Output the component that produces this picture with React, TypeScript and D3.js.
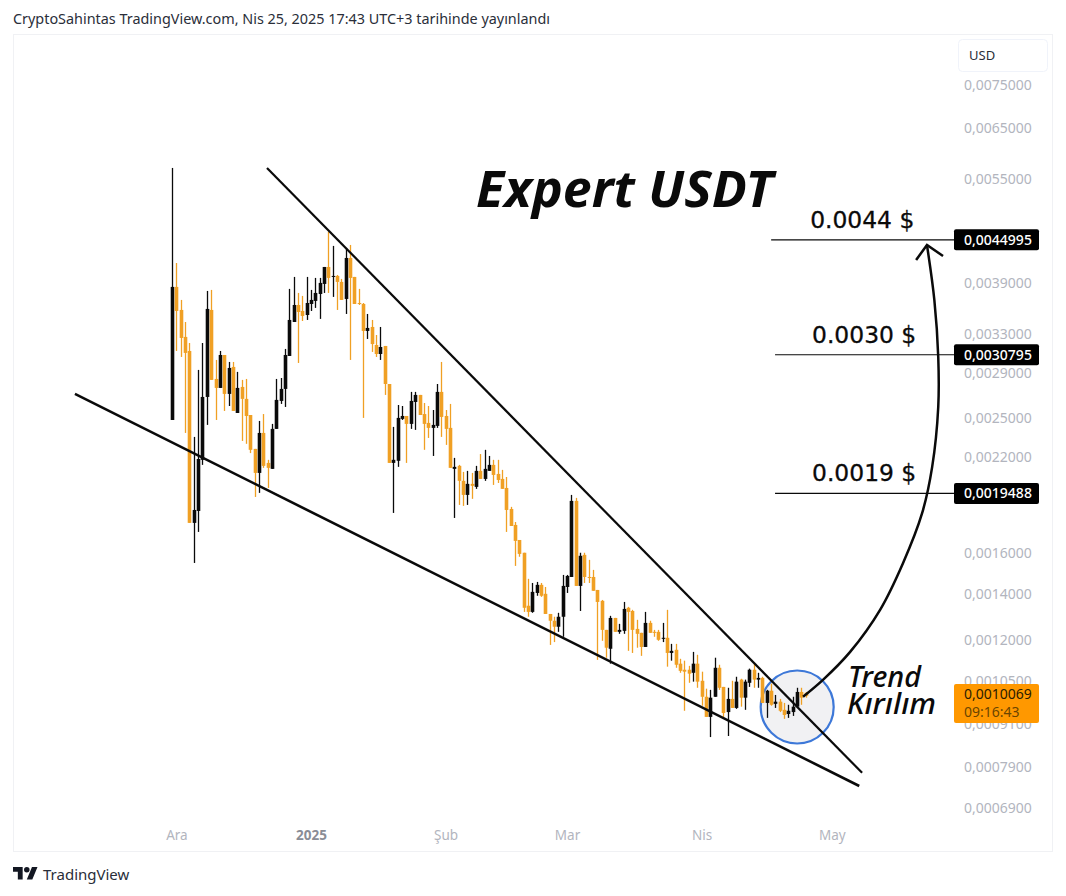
import React from "react";
import * as d3 from "d3";

const WIDTH = 1066;
const HEIGHT = 896;
const PRICE_UNIT = 1e-6;
const FIRST_DAY = new Date(Date.UTC(2024, 10, 30));

const opens = [2483,3852,3570,3266,3118,1768,1839,2177,2679,3570,2843,2760,3077,2706,2958,2541,2769,2662,2524,2257,2085,2379,2155,2113,2411,2644,2751,3067,3431,3629,3558,3511,3641,3678,3763,3890,4114,3981,3994,3916,3702,4238,3981,3653,3641,3331,3375,3180,3087,3170,2796,2155,2170,2492,2516,2451,2635,2697,2532,2459,2419,2435,2724,2516,2419,2113,2134,2031,1939,2011,1991,2099,2044,2099,2141,2078,2044,1984,1851,1756,1671,1602,1345,1318,1403,1441,1399,1309,1280,1255,1297,1431,1479,1901,1436,1591,1479,1479,1417,1367,1242,1167,1292,1234,1238,1336,1322,1246,1230,1174,1271,1234,1234,1206,1210,1151,1163,1111,1089,1089,1078,1111,1050,996,932,996,1096,1029,947,989,960,1054,993,1043,1089,1054,1060,976,1016,973,980,954,941,947,964,1012,1009];
const highs = [5704,4168,3690,3431,3201,2348,2929,3201,3801,3814,3027,3118,3077,3007,3007,2910,2834,2843,2524,2257,2475,2532,2177,2451,2843,2852,3139,3827,3981,3776,3739,3981,3814,3968,3968,4114,4618,4410,4007,3955,4381,4424,3981,3827,3653,3523,3454,3287,3375,3170,2796,2427,2609,2600,2516,2724,2724,2697,2626,2600,2566,2796,3007,2566,2618,2191,2141,2092,2099,2085,2134,2219,2250,2205,2177,2177,2106,2057,1864,1773,1671,1602,1470,1450,1455,1450,1431,1309,1297,1314,1489,1489,1939,1920,1602,1602,1565,1514,1417,1371,1242,1301,1292,1267,1362,1340,1327,1284,1230,1318,1280,1242,1242,1271,1327,1186,1186,1129,1122,1103,1155,1144,1082,1023,1019,1133,1107,1029,1026,1050,1064,1057,1054,1093,1114,1078,1064,1019,1040,1002,989,976,970,996,1026,1026,1012];
const lows = [2483,3118,3057,2379,1768,1549,1716,2141,2443,2834,2483,2760,2558,2600,2558,2541,2317,2295,2226,1926,1952,2120,1984,2113,2411,2618,2592,3067,3431,2997,3442,3454,3558,3594,3466,3776,3776,3727,3570,3690,3523,3027,3641,3629,2500,3244,3108,3057,3027,2697,2155,1827,2127,2483,2155,2411,2403,2524,2250,2340,2205,2419,2348,2287,2120,1797,1876,1870,1876,1914,1978,2044,2031,2099,2004,2017,1978,1716,1750,1534,1581,1318,1297,1314,1390,1385,1309,1182,1193,1234,1214,1403,1479,1436,1322,1450,1450,1413,1125,1198,1133,1111,1234,1226,1226,1159,1151,1171,1140,1174,1230,1214,1198,1193,1100,1122,1096,1078,951,1043,1047,1026,967,932,872,996,1019,929,875,960,957,964,954,1029,1026,1026,976,929,967,960,947,926,929,935,964,970,993];
const closes = [3852,3558,3255,3098,1768,1845,2183,2679,3582,2834,2760,3077,2706,2948,2558,2760,2662,2516,2250,2085,2379,2134,2120,2411,2653,2751,3077,3454,3629,3546,3500,3653,3690,3776,3903,4114,3968,3994,3916,3690,4238,3968,3641,3641,3331,3364,3190,3087,3159,2796,2155,2177,2500,2516,2451,2644,2697,2524,2451,2419,2443,2724,2508,2411,2120,2127,2031,1939,2011,1998,2099,2044,2113,2141,2071,2037,1978,1845,1750,1666,1596,1336,1318,1408,1441,1390,1309,1280,1255,1297,1436,1484,1901,1436,1586,1479,1474,1413,1362,1242,1171,1292,1234,1242,1331,1318,1242,1226,1174,1271,1230,1230,1202,1210,1151,1159,1107,1085,1082,1075,1111,1047,996,932,993,1096,1026,944,989,960,1047,993,1047,1089,1054,1060,976,1016,970,980,951,938,951,964,1012,993,999];

const yTickValues = [0.0075,0.0065,0.0055,0.0039,0.0033,0.0029,0.0025,0.0022,0.0016,0.0014,0.0012,0.00105,0.00091,0.00079,0.00069];
const monthTicks = [
  { date: new Date(Date.UTC(2024, 11, 1)), label: "Ara", strong: false },
  { date: new Date(Date.UTC(2025, 0, 1)), label: "2025", strong: true },
  { date: new Date(Date.UTC(2025, 1, 1)), label: "Şub", strong: false },
  { date: new Date(Date.UTC(2025, 2, 1)), label: "Mar", strong: false },
  { date: new Date(Date.UTC(2025, 3, 1)), label: "Nis", strong: false },
  { date: new Date(Date.UTC(2025, 4, 1)), label: "May", strong: false },
];

const targetLevels = [
  { price: 0.0044995, label: "0,0044995", note: "0.0044 $", from: 137.9, noteShift: 39 },
  { price: 0.0030795, label: "0,0030795", note: "0.0030 $", from: 138.8, noteShift: 37 },
  { price: 0.0019488, label: "0,0019488", note: "0.0019 $", from: 138.8, noteShift: 37 },
];
// trend lines as [day index, price]
const upperTrend: [number, number][] = [[21.75, 0.005704], [158.85, 0.000775]];
const lowerTrend: [number, number][] = [[-22.5, 0.002706], [158.2, 0.000742]];
// target arrow as [day index, price]
const arrowPath: [number, number][] = [
  [145.25, 0.000996], [149.9, 0.001054], [156.1, 0.001155], [163, 0.001327], [168.3, 0.001549],
  [172.7, 0.001827], [175, 0.002127], [176.4, 0.002592], [176.4, 0.003057], [175.5, 0.00369], [173.8, 0.004424],
];
const arrowHead: [number, number][] = [[171.3, 0.00421], [173.8, 0.004424], [177.5, 0.004266]];
const breakCircle = { day: 143.9, price: 0.000963 };

const LAST_PRICE_LABEL = "0,0010069";
const COUNTDOWN_LABEL = "09:16:43";
const TITLE = "CryptoSahintas TradingView.com, Nis 25, 2025 17:43 UTC+3 tarihinde yayınlandı";

const BLACK = "#0a0a0a";
const ORANGE = "#f0a024";
const GREY = "#b2b5be";
const UI_FONT = "'Noto Sans', sans-serif";
const HAND_FONT = "'DejaVu Sans', sans-serif";

const dayOf = (i: number) => new Date(FIRST_DAY.getTime() + i * 86400000);

export default function App() {
  const x = d3.scaleUtc().domain([FIRST_DAY, dayOf(146)]).range([172.6, 806.3]);
  const y = d3.scaleLog().domain([0.0075, 0.00069]).range([85, 808]);
  const px = (i: number) => x(dayOf(i));
  const line = d3.line<[number, number]>().x((d) => px(d[0])).y((d) => y(d[1]));
  const curve = d3.line<[number, number]>().x((d) => px(d[0])).y((d) => y(d[1])).curve(d3.curveCatmullRom.alpha(0.5));
  const fmt = (v: number) => v.toFixed(7).replace(".", ",");
  const cx = px(breakCircle.day);
  const cy = y(breakCircle.price);

  return (
    <svg width={WIDTH} height={HEIGHT} style={{ position: "absolute", left: 0, top: 0, background: "#fff" }}>
      <text x={13} y={24} fontFamily={UI_FONT} fontSize={14.3} fill="#2a2e39" textLength={537} lengthAdjust="spacingAndGlyphs">{TITLE}</text>
      <rect x={13.5} y={34.5} width={1039} height={817} fill="#fff" stroke="#f0f1f4" strokeWidth={1} />

      <circle cx={cx} cy={cy} r={36.5} fill="#f1f1f3" stroke="#3d78d8" strokeWidth={2.2} />

      {yTickValues.map((t) => (
        <text key={t} x={964} y={y(t)} dy="0.36em" fontFamily={UI_FONT} fontSize={14} fill={GREY}>{fmt(t)}</text>
      ))}
      {monthTicks.map((t) => (
        <text key={t.label} x={x(t.date)} y={835} dy="0.36em" textAnchor="middle" fontFamily={UI_FONT}
          fontSize={13.5} fontWeight={t.strong ? 700 : 400} fill={t.strong ? "#8a8d96" : GREY}>{t.label}</text>
      ))}

      <g>
        {opens.map((o, i) => {
          const c = closes[i];
          const up = c >= o;
          const color = up ? BLACK : ORANGE;
          const top = y(Math.max(o, c) * PRICE_UNIT);
          const bot = y(Math.min(o, c) * PRICE_UNIT);
          const xc = Math.floor(px(i)) + 0.5;
          return (
            <g key={i}>
              <line x1={xc} x2={xc} y1={y(highs[i] * PRICE_UNIT)} y2={y(lows[i] * PRICE_UNIT)} stroke={color} strokeWidth={1.3} />
              <rect x={xc - 1.8} y={top} width={3.6} height={Math.max(bot - top, 1)} fill={color} />
            </g>
          );
        })}
      </g>

      <path d={line(upperTrend)!} fill="none" stroke={BLACK} strokeWidth={2.2} />
      <path d={line(lowerTrend)!} fill="none" stroke={BLACK} strokeWidth={2.6} />
      <path d={curve(arrowPath)!} fill="none" stroke={BLACK} strokeWidth={2.5} />
      <path d={line(arrowHead)!} fill="none" stroke={BLACK} strokeWidth={2.5} />

      {targetLevels.map((l) => (
        <g key={l.label}>
          <line x1={px(l.from)} x2={954} y1={y(l.price)} y2={y(l.price)} stroke={BLACK} strokeWidth={1.2} />
          <text x={px(l.from) + l.noteShift} y={y(l.price) - 12} fontFamily={HAND_FONT} fontSize={23.4} fill={BLACK}
            stroke={BLACK} strokeWidth={0.3}>{l.note}</text>
          <rect x={954} y={y(l.price) - 10.5} width={85} height={21} rx={2} fill="#000" />
          <text x={964} y={y(l.price)} dy="0.36em" fontFamily={UI_FONT} fontSize={14} fontWeight={500} fill="#fff">{l.label}</text>
        </g>
      ))}

      <text x={476} y={207} fontFamily={UI_FONT} fontSize={50} fontWeight={700} fontStyle="italic" fill={BLACK}
        textLength={297} lengthAdjust="spacingAndGlyphs">Expert USDT</text>
      <text x={848} y={687} fontFamily={UI_FONT} fontSize={28} fontWeight={500} fontStyle="italic" fill={BLACK}
        textLength={73} lengthAdjust="spacingAndGlyphs">Trend</text>
      <text x={847} y={714} fontFamily={UI_FONT} fontSize={28} fontWeight={500} fontStyle="italic" fill={BLACK}
        textLength={89} lengthAdjust="spacingAndGlyphs">Kırılım</text>

      <rect x={954} y={684} width={85} height={39} rx={2} fill="#ff9800" />
      <text x={964} y={694} dy="0.36em" fontFamily={UI_FONT} fontSize={14} fill="#2a1c00">{LAST_PRICE_LABEL}</text>
      <text x={964} y={712} dy="0.36em" fontFamily={UI_FONT} fontSize={14} fill="#6b4500">{COUNTDOWN_LABEL}</text>

      <rect x={958.5} y={39.5} width={89} height={32} rx={4} fill="#fff" stroke="#f0f3fa" />
      <text x={969} y={55} dy="0.36em" fontFamily={UI_FONT} fontSize={13} fill="#2a2e39">USD</text>

      <g transform="translate(13,864.2) scale(0.69)" fill="#131722">
        <path d="M14 22H7V11H0V4h14v18zM28 22h-8l7.5-18h8L28 22z" />
        <circle cx={20} cy={8} r={4} />
      </g>
      <text x={43} y={875} dy="0.36em" fontFamily={UI_FONT} fontSize={15} fill="#2a2e39">TradingView</text>
    </svg>
  );
}
